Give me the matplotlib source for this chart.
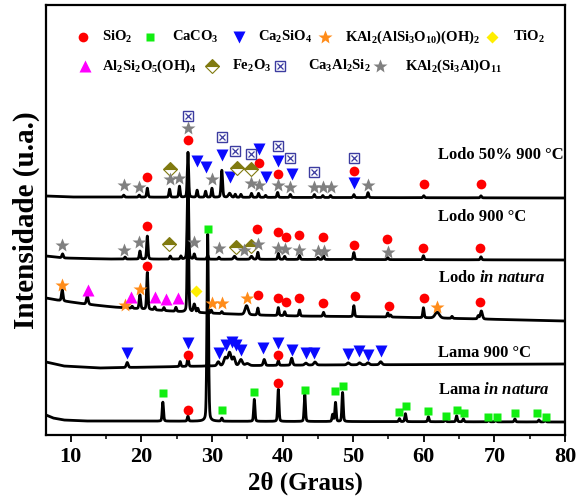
import matplotlib.pyplot as plt
import numpy as np

plt.rcParams['font.family'] = ['Liberation Serif', 'DejaVu Serif']
plt.rcParams['font.weight'] = 'bold'
plt.rcParams['mathtext.fontset'] = 'custom'
plt.rcParams['mathtext.rm'] = 'Liberation Serif:bold'
plt.rcParams['mathtext.it'] = 'Liberation Serif:italic:bold'
plt.rcParams['mathtext.bf'] = 'Liberation Serif:bold'
plt.rcParams['mathtext.default'] = 'rm'

lama_nat_picos = [(23.05, 19), (26.6, 5), (29.4, 187, 0.25), (31.4, 3), (36.0, 22), (39.4, 32),
                  (43.15, 27), (47.1, 7), (47.5, 19), (48.5, 29), (56.55, 3), (57.4, 8),
                  (60.65, 5), (63.05, 2), (64.65, 6), (65.6, 3), (69.2, 2), (70.2, 2),
                  (72.9, 3), (76.3, 2), (77.2, 2)]
lama_nat_fundo_x = [6.5, 7.5, 9, 12, 80]
lama_nat_fundo_y = [7, 4, 2, 1, 0]
lama_nat_base = 13

lama_900_picos = [(18.0, 5, 0.3), (25.5, 5), (26.6, 10), (29.4, 3), (30.9, 4, 0.4), (31.9, 8, 0.5),
                  (32.5, 13, 0.5), (33.1, 8, 0.4), (34.1, 6, 0.5), (35.0, 2, 0.6), (37.4, 6, 0.3),
                  (39.4, 5), (41.3, 7, 0.3), (43.3, 2, 0.4), (44.6, 3, 0.4), (49.3, 2, 0.4),
                  (50.9, 2, 0.4), (52.1, 2, 0.4), (53.9, 3, 0.4)]
lama_900_fundo_x = [6.5, 9, 14, 30, 45, 80]
lama_900_fundo_y = [6, 2, 0, 2, 3, 4]
lama_900_base = 67

lodo_nat_picos = [(8.8, 11, 0.25), (12.35, 8, 0.3), (17.8, 3), (18.7, 2), (19.8, 14, 0.25), (20.85, 37),
                  (21.9, 3), (23.2, 3), (24.9, 4), (26.6, 125), (27.5, 8, 0.3), (28.0, 4), (29.9, 3),
                  (31.4, 2), (34.9, 9, 0.5), (36.5, 7), (39.4, 8), (40.3, 4), (42.4, 6), (45.8, 4),
                  (50.1, 11), (54.9, 4), (55.3, 2), (59.95, 10), (61.9, 6, 0.7), (64.0, 2),
                  (67.7, 3), (68.15, 8, 0.35)]
lodo_nat_fundo_x = [6.5, 8, 12, 16, 20, 26, 36, 42, 55, 68, 80]
lodo_nat_fundo_y = [23, 21, 17, 14, 12, 9, 6, 5, 4, 2, 0]
lodo_nat_base = 114

lodo_900_picos = [(8.85, 4, 0.25), (17.7, 2), (19.8, 8), (20.85, 23), (24.1, 3), (25.6, 3), (26.6, 90),
                  (27.5, 5), (29.4, 4), (31.0, 2), (33.2, 3, 0.35), (35.6, 3, 0.35), (36.5, 7),
                  (39.4, 6), (40.3, 3), (42.4, 4), (45.0, 2), (45.8, 4), (50.1, 7), (54.9, 2),
                  (59.95, 4), (68.1, 3)]
lodo_900_fundo_x = [6.5, 9, 15, 80]
lodo_900_fundo_y = [4, 2, 1, 0]
lodo_900_base = 175

lodo_50_picos = [(17.5, 2), (19.7, 2), (20.85, 9), (24.0, 8), (25.4, 11), (26.6, 45), (27.9, 7),
                 (29.1, 6), (30.0, 9), (31.4, 27, 0.25), (32.5, 4, 0.4), (33.3, 3), (34.1, 3),
                 (35.6, 4), (36.6, 4), (37.6, 2), (39.3, 5), (41.1, 3), (44.5, 3), (45.7, 2),
                 (46.8, 2), (50.1, 3), (52.1, 5), (60.0, 2), (68.1, 2)]
lodo_50_fundo_x = [6.5, 10, 80]
lodo_50_fundo_y = [2, 1, 0]
lodo_50_base = 237

# identificacao das fases (posicao dos simbolos)
sio2_x = [20.8, 26.6, 36.6, 39.3, 50.1, 60.0, 68.1,
          20.85, 36.4, 39.3, 40.5, 42.3, 45.7, 50.1, 54.8, 59.9, 68.0,
          20.85, 36.5, 39.3, 40.5, 42.3, 45.7, 50.2, 55.1, 60.0, 68.0,
          26.6, 39.4, 26.6, 39.4]
sio2_y = [258, 295, 272, 261, 264, 251, 251,
          209, 206, 203, 198, 200, 198, 190, 196, 187, 187,
          169, 140, 137, 133, 137, 132, 139, 129, 137, 133,
          80, 80, 25, 52]
caco3_x = [23.1, 29.4, 31.4, 36.0, 43.2, 47.4, 48.5, 56.5, 57.5, 60.6, 63.1, 64.7, 65.7,
           69.1, 70.4, 72.9, 76.0, 77.3]
caco3_y = [42, 206, 25, 43, 45, 44, 49, 23, 29, 24, 19, 25, 22, 18, 18, 22, 22, 18]
ca2sio4_x = [18.0, 26.6, 31.0, 32.0, 32.8, 33.4, 34.1, 37.3, 39.3, 41.3, 43.3, 44.5, 49.3,
             50.8, 52.1, 53.9,
             27.9, 29.1, 31.4, 32.5, 36.6, 37.6, 39.3, 41.3, 50.1]
ca2sio4_y = [82, 92, 82, 90, 93, 90, 85, 87, 92, 85, 82, 82, 81, 84, 80, 84,
             274, 268, 280, 258, 286, 258, 274, 261, 252]
mica_x = [8.7, 17.7, 19.8, 30.0, 31.4, 34.9, 61.9]
mica_y = [150, 130, 146, 132, 132, 137, 128]
tio2_x = [27.8]
tio2_y = [144]
caulinita_x = [12.4, 18.5, 22.0, 23.5, 25.2]
caulinita_y = [145, 138, 138, 136, 137]
fe2o3_x = [24.0, 33.5, 35.5, 23.9, 33.4, 35.5]
fe2o3_y = [266, 267, 266, 191, 188, 189]
ca3al2si2_x = [26.6, 31.4, 33.2, 35.5, 39.3, 41.0, 44.4, 50.1]
ca3al2si2_y = [319, 298, 284, 281, 289, 277, 263, 277]
kal2_x = [17.5, 19.6, 24.0, 25.4, 26.6, 30.0, 35.5, 36.6, 39.3, 41.0, 44.5, 45.7, 46.8, 52.1,
          8.7, 17.5, 19.6, 27.4, 31.0, 34.5, 36.5, 39.3, 40.3, 42.3, 45.0, 45.8, 54.9]
kal2_y = [250, 248, 256, 257, 307, 256, 252, 250, 250, 248, 248, 248, 248, 250,
          190, 185, 193, 193, 187, 185, 191, 187, 186, 185, 184, 184, 183]


def perfil(x, picos, fundo_x, fundo_y, base):
    y = base + np.interp(x, fundo_x, fundo_y)
    for p in picos:
        pos, h = p[0], p[1]
        w = p[2] if len(p) > 2 else 0.22
        d = (x - pos) / w
        y = y + h * (0.75 * np.exp(-4 * np.log(2) * d ** 2) + 0.25 / (1 + 4 * d ** 2))
    return y


x = np.linspace(6.5, 80, 6000)

fig = plt.figure(figsize=(5.79, 4.99), dpi=100)
ax = fig.add_axes([46 / 579, 1 - 435 / 499, 519 / 579, 430 / 499])

for picos, fx, fy, base in [(lama_nat_picos, lama_nat_fundo_x, lama_nat_fundo_y, lama_nat_base),
                            (lama_900_picos, lama_900_fundo_x, lama_900_fundo_y, lama_900_base),
                            (lodo_nat_picos, lodo_nat_fundo_x, lodo_nat_fundo_y, lodo_nat_base),
                            (lodo_900_picos, lodo_900_fundo_x, lodo_900_fundo_y, lodo_900_base),
                            (lodo_50_picos, lodo_50_fundo_x, lodo_50_fundo_y, lodo_50_base)]:
    ax.plot(x, perfil(x, picos, fx, fy, base), color='black', lw=2.0, zorder=2)

# simbolos das fases
estilos = {
    'sio2': dict(marker='o', color='#ff0000', ms=7, mec='none'),
    'caco3': dict(marker='s', color='#11ee11', ms=6, mec='none'),
    'ca2sio4': dict(marker='v', color='#0a0aff', ms=8, mec='none'),
    'mica': dict(marker='*', color='#ff8c1a', ms=10, mec='none'),
    'tio2': dict(marker='D', color='#ffee00', ms=6.5, mec='none'),
    'caulinita': dict(marker='^', color='#ff00ff', ms=8, mec='none'),
    'fe2o3': dict(marker='D', color='#807a10', ms=7, mec='#807a10', mew=0.8, fillstyle='top',
                  markerfacecoloralt='white'),
    'ca3al2si2': dict(marker='s', color='#3c3ca0', ms=7, mfc='white', mec='#3c3ca0', mew=1),
    'kal2': dict(marker='*', color='#808080', ms=10, mec='none'),
}
pontos = [('sio2', sio2_x, sio2_y), ('caco3', caco3_x, caco3_y), ('ca2sio4', ca2sio4_x, ca2sio4_y),
          ('mica', mica_x, mica_y), ('tio2', tio2_x, tio2_y), ('caulinita', caulinita_x, caulinita_y),
          ('fe2o3', fe2o3_x, fe2o3_y), ('ca3al2si2', ca3al2si2_x, ca3al2si2_y), ('kal2', kal2_x, kal2_y)]
for nome, px, py in pontos:
    ax.plot(px, py, ls='none', zorder=3, **estilos[nome])
    if nome == 'ca3al2si2':
        ax.plot(px, py, ls='none', marker='x', ms=5, color='#3c3ca0', mew=0.9, zorder=4)

# legenda manual
legenda = [('sio2', 11.7, 398, 14.5, 'SiO$_2$'),
           ('caco3', 21.2, 398, 24.3, 'CaCO$_3$'),
           ('ca2sio4', 33.8, 398, 36.5, 'Ca$_2$SiO$_4$'),
           ('mica', 46.0, 398, 48.8, 'KAl$_2$(AlSi$_3$O$_{10}$)(OH)$_2$'),
           ('tio2', 69.7, 398, 72.6, 'TiO$_2$'),
           ('caulinita', 12.0, 369, 14.5, 'Al$_2$Si$_2$O$_5$(OH)$_4$'),
           ('fe2o3', 30.0, 369, 32.8, 'Fe$_2$O$_3$'),
           ('ca3al2si2', 39.6, 369, 43.6, 'Ca$_3$Al$_2$Si$_2$'),
           ('kal2', 53.8, 369, 57.3, 'KAl$_2$(Si$_3$Al)O$_{11}$')]
for nome, mx, my, tx, rotulo in legenda:
    ax.plot([mx], [my], ls='none', zorder=3, **estilos[nome])
    if nome == 'ca3al2si2':
        ax.plot([mx], [my], ls='none', marker='x', ms=5, color='#3c3ca0', mew=0.9, zorder=4)
    ax.text(tx, my, rotulo, fontsize=10.5, fontweight='bold', va='center', ha='left')

# nomes das amostras
amostras = [('Lodo 50% 900 °C', 280), ('Lodo 900 °C', 218), ('Lodo $\\mathit{in\\ natura}$', 157),
            ('Lama 900 °C', 82), ('Lama $\\mathit{in\\ natura}$', 45)]
for rot, yy in amostras:
    ax.text(62.0, yy, rot, fontsize=12, fontweight='bold', va='center', ha='left')

ax.set_xlim(6.5, 80)
ax.set_ylim(0, 430)
ax.set_yticks([])
ax.set_xticks(np.arange(10, 81, 10))
ax.set_xticks(np.arange(15, 80, 10), minor=True)
ax.tick_params(axis='x', which='major', direction='out', length=5, width=1.3, labelsize=16, pad=4)
ax.tick_params(axis='x', which='minor', direction='out', length=3, width=1.1)
for s in ax.spines.values():
    s.set_linewidth(1.6)
ax.set_xlabel('2θ (Graus)', fontsize=18, fontweight='bold', labelpad=3)
ax.set_ylabel('Intensidade (u.a.)', fontsize=21, fontweight='bold', labelpad=4)

fig.savefig('out.png', dpi=100)
